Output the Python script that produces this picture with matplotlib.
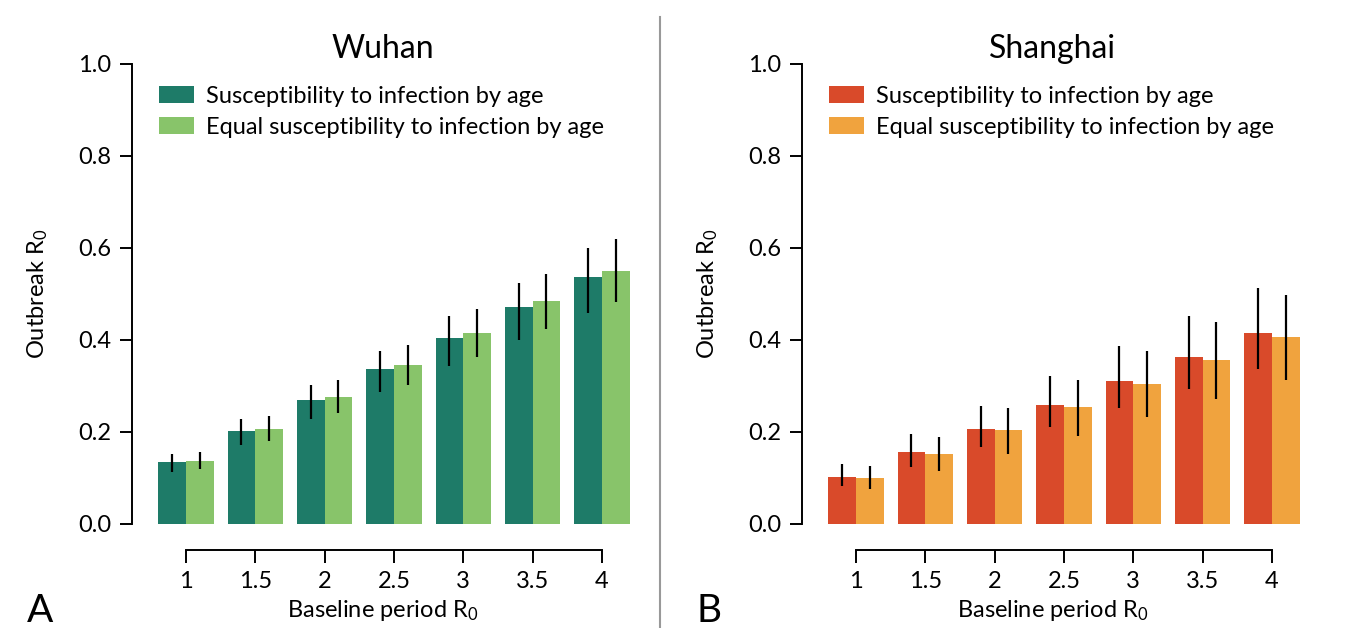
import matplotlib
matplotlib.use("Agg")
import matplotlib.pyplot as plt
from matplotlib.lines import Line2D

plt.rcParams['font.family'] = ['Lato', 'DejaVu Sans']
plt.rcParams['mathtext.fontset'] = 'custom'
plt.rcParams['mathtext.rm'] = 'Lato'
plt.rcParams['mathtext.it'] = 'Lato:italic'

baseline_r0 = ["1", "1.5", "2", "2.5", "3", "3.5", "4"]
labels = ["Susceptibility to infection by age",
          "Equal susceptibility to infection by age"]

# Wuhan
wuhan_age = [0.134, 0.202, 0.270, 0.337, 0.404, 0.472, 0.538]
wuhan_age_lo = [0.113, 0.171, 0.228, 0.286, 0.343, 0.401, 0.458]
wuhan_age_hi = [0.152, 0.228, 0.302, 0.377, 0.452, 0.523, 0.599]
wuhan_eq = [0.138, 0.207, 0.276, 0.345, 0.415, 0.484, 0.551]
wuhan_eq_lo = [0.120, 0.180, 0.241, 0.302, 0.364, 0.425, 0.483]
wuhan_eq_hi = [0.156, 0.235, 0.313, 0.390, 0.467, 0.543, 0.620]

# Shanghai
shanghai_age = [0.103, 0.156, 0.207, 0.258, 0.311, 0.363, 0.415]
shanghai_age_lo = [0.083, 0.125, 0.167, 0.210, 0.252, 0.294, 0.336]
shanghai_age_hi = [0.131, 0.195, 0.257, 0.322, 0.387, 0.452, 0.514]
shanghai_eq = [0.101, 0.153, 0.204, 0.255, 0.305, 0.357, 0.407]
shanghai_eq_lo = [0.076, 0.116, 0.153, 0.192, 0.233, 0.272, 0.312]
shanghai_eq_hi = [0.127, 0.189, 0.252, 0.314, 0.376, 0.439, 0.498]

W, H = 1357, 628
fig = plt.figure(figsize=(W / 100, H / 100), dpi=100)


def panel(left_px, title, letter, a, a_lo, a_hi, b, b_lo, b_hi, c1, c2):
    ax = fig.add_axes([left_px / W, (H - 524) / H, 501 / W, 460 / H])
    x = list(range(len(baseline_r0)))
    w = 0.4
    xa = [i - w / 2 for i in x]
    xb = [i + w / 2 for i in x]
    ax.bar(xa, a, width=w, color=c1, label=labels[0])
    ax.bar(xb, b, width=w, color=c2, label=labels[1])
    ax.vlines(xa, a_lo, a_hi, color="black", lw=1.6)
    ax.vlines(xb, b_lo, b_hi, color="black", lw=1.6)

    ax.set_xlim(-0.78, 6.45)
    ax.set_ylim(0, 1.0)
    ax.set_yticks([0, 0.2, 0.4, 0.6, 0.8, 1.0])
    ax.set_yticklabels(["0.0", "0.2", "0.4", "0.6", "0.8", "1.0"])
    ax.set_xticks(x)
    ax.set_xticklabels(baseline_r0)

    for s in ["top", "right"]:
        ax.spines[s].set_visible(False)
    ax.spines["bottom"].set_position(("outward", 19))
    ax.spines["bottom"].set_bounds(0, 6)
    ax.spines["left"].set_bounds(0, 1.0)
    for s in ["bottom", "left"]:
        ax.spines[s].set_linewidth(1.4)
    ax.tick_params(axis="both", length=9, width=1.4, labelsize=17, pad=6)

    ax.set_ylabel("Outbreak R$_0$", fontsize=17, labelpad=20)
    ax.set_xlabel("Baseline period R$_0$", fontsize=17, labelpad=4)
    ax.set_title(title, fontsize=23, pad=4)

    ax.legend(loc="upper left", bbox_to_anchor=(0.035, 0.973), frameon=False,
              fontsize=17, handlelength=1.5, handleheight=0.75,
              handletextpad=0.5, labelspacing=0.42, borderaxespad=0)
    fig.text((left_px - 105) / W, 6 / H, letter, fontsize=28, ha="left",
             va="baseline")
    return ax


panel(132, "Wuhan", "A", wuhan_age, wuhan_age_lo, wuhan_age_hi,
      wuhan_eq, wuhan_eq_lo, wuhan_eq_hi, "#1e7b68", "#88c46a")
panel(802, "Shanghai", "B", shanghai_age, shanghai_age_lo, shanghai_age_hi,
      shanghai_eq, shanghai_eq_lo, shanghai_eq_hi, "#d94a2a", "#f0a33e")

fig.add_artist(Line2D([660 / W, 660 / W], [0, (H - 17) / H],
                      color="#999999", lw=1.5))

fig.savefig("out.png", dpi=100)
